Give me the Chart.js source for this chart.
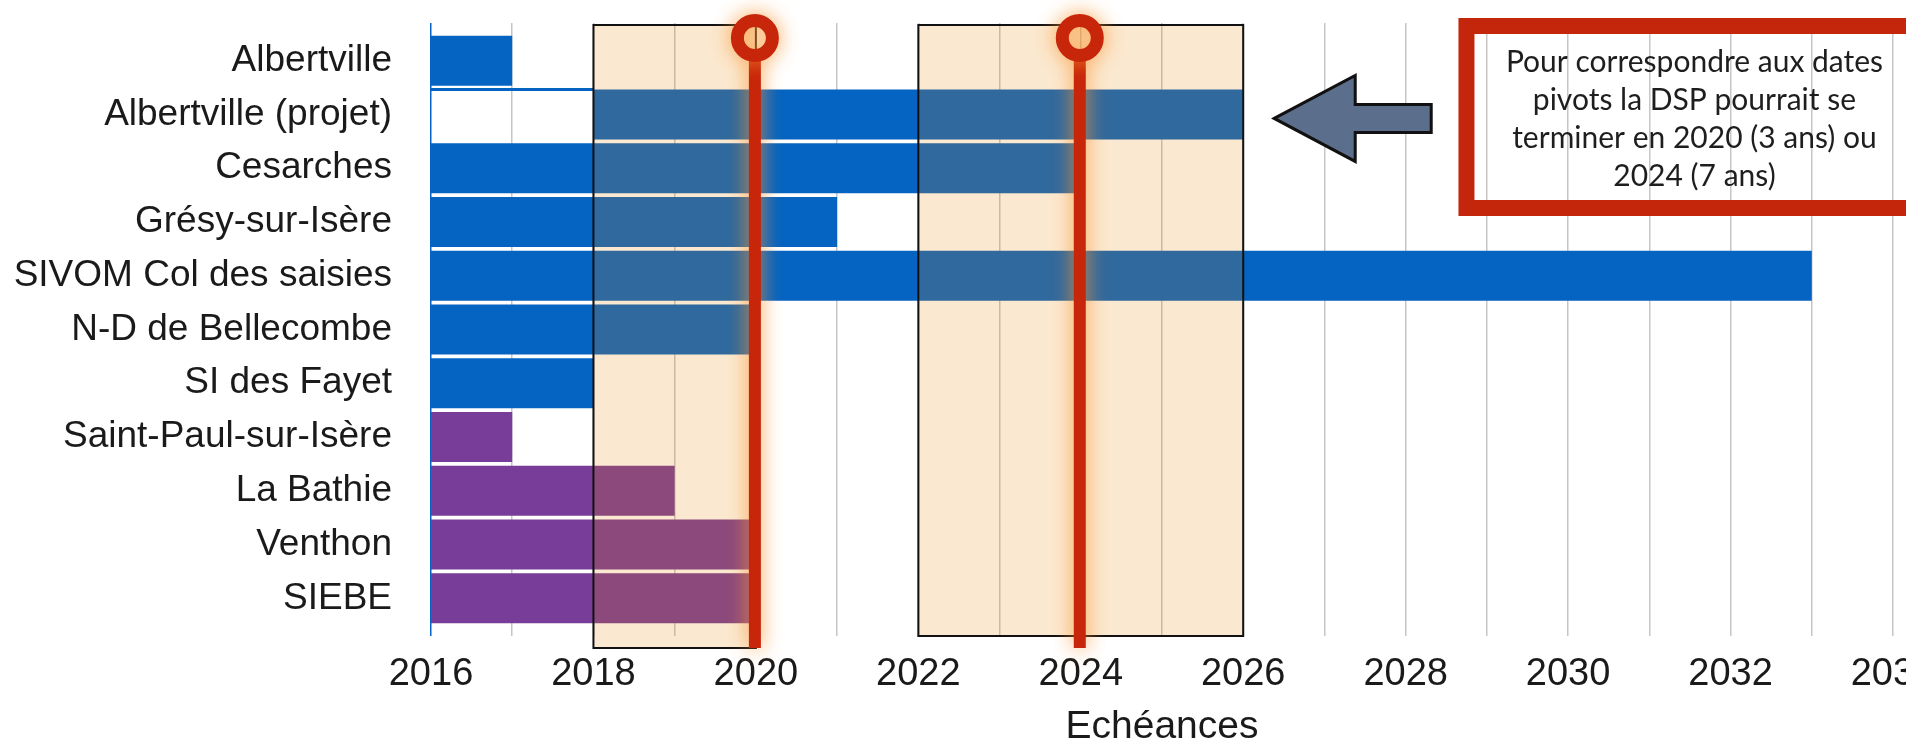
<!DOCTYPE html>
<html lang="fr">
<head>
<meta charset="utf-8">
<title>Echéances DSP</title>
<script src="https://cdn.jsdelivr.net/npm/chart.js@4.4.1/dist/chart.umd.min.js"></script>
<style>
  html, body { margin: 0; padding: 0; background: #fff; overflow: hidden; }
  #wrap { width: 1960px; height: 741px; }
</style>
</head>
<body>
<div id="wrap"><canvas id="echeances" width="1960" height="741"></canvas></div>
<script>
// ---- données ----
const communes = ['Albertville', 'Albertville (projet)', 'Cesarches', 'Grésy-sur-Isère',
  'SIVOM Col des saisies', 'N-D de Bellecombe', 'SI des Fayet', 'Saint-Paul-sur-Isère',
  'La Bathie', 'Venthon', 'SIEBE'];
const debut = [2016, 2018, 2016, 2016, 2016, 2016, 2016, 2016, 2016, 2016, 2016];
const fin   = [2017, 2026, 2024, 2021, 2033, 2020, 2018, 2017, 2019, 2020, 2020];

const anneeMin = 2016;
const anneeMax = 2034;
const datesPivots = [2020, 2024];
const periodes = [[2018, 2020], [2022, 2026]];
const texteNote = ['Pour correspondre aux dates', 'pivots la DSP pourrait se',
  'terminer en 2020 (3 ans) ou', '2024 (7 ans)'];

// ---- styles ----
const BLEU = '#0563C1';
const VIOLET = '#773D98';
const ROUGE = '#C8260A';
const couleurs = communes.map((c, i) => i < 7 ? BLEU : VIOLET);

Chart.defaults.font.family = "'Liberation Sans', Arial, sans-serif";
Chart.defaults.color = '#1a1a1a';

// zones beiges, dates pivots, flèche et encadré
const surcouches = {
  id: 'surcouches',
  afterDatasetsDraw(chart) {
    const { ctx, chartArea: ca, scales: { x, y } } = chart;
    ctx.save();

    // petit trait bleu au-dessus de la ligne "projet"
    const yProjet = y.getPixelForValue(1) - 25;
    ctx.strokeStyle = BLEU;
    ctx.lineWidth = 3;
    ctx.beginPath();
    ctx.moveTo(x.getPixelForValue(anneeMin), yProjet);
    ctx.lineTo(x.getPixelForValue(debut[1]), yProjet);
    ctx.stroke();

    // périodes
    periodes.forEach(([a, b], i) => {
      const x1 = x.getPixelForValue(a);
      const x2 = x.getPixelForValue(b);
      const y1 = ca.top + 2;
      const y2 = i === 0 ? ca.bottom + 12 : ca.bottom;
      ctx.fillStyle = 'rgba(234,134,7,0.19)';
      ctx.fillRect(x1, y1, x2 - x1, y2 - y1);
      ctx.strokeStyle = '#111';
      ctx.lineWidth = 2;
      ctx.strokeRect(x1, y1, x2 - x1, y2 - y1);
    });

    // dates pivots
    datesPivots.forEach(p => {
      const px = x.getPixelForValue(p) - 1;
      const cy = ca.top + 15;
      ctx.save();
      ctx.shadowColor = 'rgba(250,150,50,0.9)';
      ctx.shadowBlur = 20;
      ctx.strokeStyle = ROUGE;
      ctx.lineWidth = 12;
      ctx.beginPath();
      ctx.moveTo(px, cy + 22);
      ctx.lineTo(px, ca.bottom + 12);
      ctx.stroke();
      ctx.lineWidth = 13;
      ctx.beginPath();
      ctx.arc(px, cy, 17.5, 0, Math.PI * 2);
      ctx.stroke();
      ctx.restore();
    });

    // flèche
    const ay = y.getPixelForValue(1) + 4;
    const tip = x.getPixelForValue(fin[1]) + 31;
    ctx.beginPath();
    ctx.moveTo(tip, ay);
    ctx.lineTo(tip + 81, ay - 43);
    ctx.lineTo(tip + 81, ay - 14);
    ctx.lineTo(tip + 157, ay - 14);
    ctx.lineTo(tip + 157, ay + 14);
    ctx.lineTo(tip + 81, ay + 14);
    ctx.lineTo(tip + 81, ay + 43);
    ctx.closePath();
    ctx.fillStyle = '#5B6E8B';
    ctx.fill();
    ctx.strokeStyle = '#111';
    ctx.lineWidth = 3;
    ctx.lineJoin = 'miter';
    ctx.stroke();

    // encadré
    const nx = x.getPixelForValue(2028.65);
    const ny = ca.top - 5;
    const nw = 472, nh = 198;
    ctx.strokeStyle = '#C4260C';
    ctx.lineWidth = 16;
    ctx.strokeRect(nx + 8, ny + 8, nw - 16, nh - 16);
    ctx.fillStyle = '#1e1e1e';
    ctx.font = "30px Lato, 'Open Sans', sans-serif";
    ctx.textAlign = 'center';
    ctx.textBaseline = 'middle';
    texteNote.forEach((ligne, i) => {
      ctx.fillText(ligne, nx + nw / 2, ny + 44 + i * 38);
    });

    ctx.restore();
  }
};

new Chart(document.getElementById('echeances'), {
  type: 'bar',
  data: {
    datasets: [{
      data: communes.map((c, i) => ({ x: [debut[i], fin[i]], y: i })),
      backgroundColor: couleurs,
      borderWidth: 0,
      barPercentage: 0.93,
      categoryPercentage: 1
    }]
  },
  options: {
    indexAxis: 'y',
    responsive: false,
    animation: false,
    layout: { padding: { top: 23, right: 67, left: 0, bottom: 0 } },
    plugins: { legend: { display: false }, tooltip: { enabled: false } },
    scales: {
      x: {
        type: 'linear',
        position: 'bottom',
        min: anneeMin,
        max: anneeMax,
        grid: {
          color: c => (c.tick && c.tick.value === anneeMin) ? BLEU : '#C6C6C6',
          lineWidth: 1.5,
          drawTicks: false
        },
        border: { display: false },
        ticks: {
          stepSize: 1,
          autoSkip: false,
          maxRotation: 0,
          padding: 16,
          font: { size: 38 },
          callback: v => v % 2 === 0 ? String(v) : ''
        },
        title: {
          display: true,
          text: 'Echéances',
          font: { size: 39, lineHeight: 0.72 },
          padding: 0
        },
        afterFit: s => { s.height = 105; }
      },
      y: {
        type: 'linear',
        reverse: true,
        offset: false,   // sinon hérité des défauts "bar"
        min: -0.7,
        max: 10.7,
        grid: { display: false, offset: false },
        border: { display: false },
        ticks: {
          stepSize: 1,
          includeBounds: false,
          autoSkip: false,
          padding: 31,
          font: { size: 37 },
          callback: v => communes[v] ?? ''
        },
        afterFit: s => {
          s.width = 431;
          s.paddingTop = 0;
          s.paddingBottom = 0;
        }
      }
    }
  },
  plugins: [surcouches]
});
</script>
</body>
</html>
